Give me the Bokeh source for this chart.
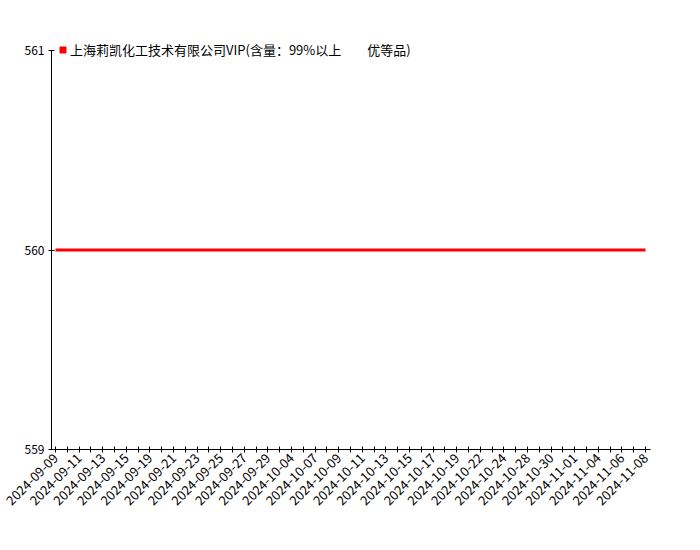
from bokeh.plotting import figure
from bokeh.models import Range1d, FixedTicker, Legend, LegendItem, ColumnDataSource
from bokeh.embed import file_html
from bokeh.resources import INLINE
import math

dates = [
    "2024-09-09", "2024-09-10", "2024-09-11", "2024-09-12", "2024-09-13", "2024-09-14",
    "2024-09-15", "2024-09-18", "2024-09-19", "2024-09-20", "2024-09-21", "2024-09-22",
    "2024-09-23", "2024-09-24", "2024-09-25", "2024-09-26", "2024-09-27", "2024-09-28",
    "2024-09-29", "2024-09-30", "2024-10-04", "2024-10-06", "2024-10-07", "2024-10-08",
    "2024-10-09", "2024-10-10", "2024-10-11", "2024-10-12", "2024-10-13", "2024-10-14",
    "2024-10-15", "2024-10-16", "2024-10-17", "2024-10-18", "2024-10-19", "2024-10-21",
    "2024-10-22", "2024-10-23", "2024-10-24", "2024-10-25", "2024-10-28", "2024-10-29",
    "2024-10-30", "2024-10-31", "2024-11-01", "2024-11-02", "2024-11-04", "2024-11-05",
    "2024-11-06", "2024-11-07", "2024-11-08",
]
prices = [560] * len(dates)
series_name = "上海莉凯化工技术有限公司VIP(含量：99%以上　　优等品)"
y_ticks = [559, 560, 561]
y_min, y_max = 559, 561

idx = list(range(len(dates)))
src = ColumnDataSource(dict(x=idx, y=prices, d=dates))

FONT = "Noto Sans CJK SC"

# frame: top 34, bottom 449; y_max sits at 50 -> headroom for the legend
p = figure(width=684, height=534, output_backend="svg", toolbar_location=None,
           x_range=Range1d(-0.34, len(dates) - 1 + 0.42),
           y_range=Range1d(y_min, y_max + 16 / 199.5),
           min_border_left=51, min_border_right=34, min_border_top=34, min_border_bottom=85)
p.outline_line_color = None
p.xgrid.visible = False
p.ygrid.visible = False
p.background_fill_color = "white"
p.border_fill_color = "white"

line = p.line("x", "y", source=src, line_color="#ff0000", line_width=3)
mark = p.scatter("x", "y", source=src, marker="square", size=0, fill_color="#ff0000",
                 line_color="#ff0000")

for ax in (p.xaxis[0], p.yaxis[0]):
    ax.axis_line_color = "black"
    ax.major_tick_line_color = "black"
    ax.major_tick_in = 3
    ax.major_tick_out = 3
    ax.minor_tick_line_color = None
    ax.major_label_text_font = FONT
    ax.major_label_text_color = "black"

p.xaxis[0].ticker = FixedTicker(ticks=idx)
p.xaxis[0].major_label_overrides = {i: (d if i % 2 == 0 else "") for i, d in enumerate(dates)}
p.xaxis[0].major_label_orientation = math.pi / 4
p.xaxis[0].major_label_standoff = 3
p.xaxis[0].major_label_text_font_size = "13px"

p.yaxis[0].ticker = FixedTicker(ticks=y_ticks)
p.yaxis[0].bounds = (y_min, y_max)
p.yaxis[0].major_label_standoff = 4
p.yaxis[0].major_label_text_font_size = "12px"

legend = Legend(items=[LegendItem(label=series_name, renderers=[mark])],
                location=(4, 390), padding=0, margin=0, spacing=0,
                glyph_width=15, glyph_height=15, label_standoff=0,
                label_text_font=FONT, label_text_font_size="13px",
                label_text_color="black",
                border_line_color=None, background_fill_alpha=0)
p.add_layout(legend, "center")

open("out.html", "w").write(file_html(p, INLINE))
